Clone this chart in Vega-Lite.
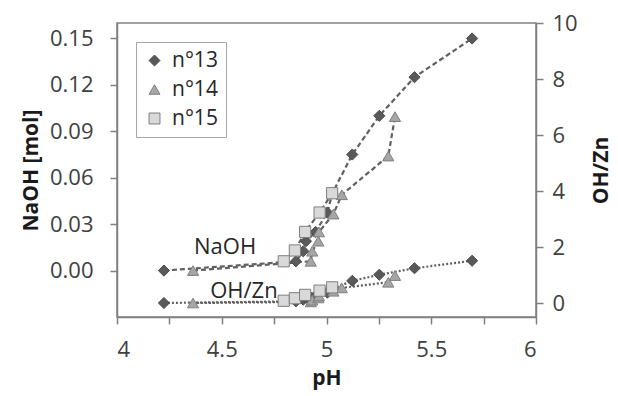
{
  "$schema": "https://vega.github.io/schema/vega-lite/v6.json",
  "width": 419,
  "height": 294,
  "autosize": {"type": "none"},
  "padding": {"left": 117, "top": 23, "right": 82, "bottom": 79},
  "background": "white",
  "config": {
    "font": "Open Sans",
    "view": {"stroke": "#808080", "strokeWidth": 1.5},
    "axis": {
      "grid": false,
      "domainColor": "#808080",
      "domainWidth": 1.5,
      "tickColor": "#808080",
      "tickWidth": 1.5,
      "tickSize": 7,
      "labelColor": "#404040",
      "labelFontSize": 22,
      "labelFont": "Open Sans",
      "titleFont": "Open Sans",
      "titleFontSize": 21,
      "titleFontWeight": "bold",
      "titleColor": "#1a1a1a"
    },
    "legend": {
      "orient": "none",
      "legendX": 19,
      "legendY": 19,
      "padding": 8,
      "rowPadding": 7,
      "strokeColor": "#a6a6a6",
      "fillColor": "white",
      "labelFontSize": 21,
      "labelFont": "Open Sans",
      "labelColor": "#262626",
      "labelOffset": 7,
      "symbolSize": 120,
      "symbolStrokeWidth": 1
    }
  },
  "datasets": {
    "pts": [
      {"series": "n°13", "pH": 4.224, "NaOH": 0.000, "OHZn": 0.00},
      {"series": "n°13", "pH": 4.854, "NaOH": 0.006, "OHZn": 0.06},
      {"series": "n°13", "pH": 4.889, "NaOH": 0.0125, "OHZn": 0.12},
      {"series": "n°13", "pH": 4.902, "NaOH": 0.019, "OHZn": 0.19},
      {"series": "n°13", "pH": 4.948, "NaOH": 0.025, "OHZn": 0.25},
      {"series": "n°13", "pH": 5.004, "NaOH": 0.0375, "OHZn": 0.37},
      {"series": "n°13", "pH": 5.028, "NaOH": 0.050, "OHZn": 0.50},
      {"series": "n°13", "pH": 5.123, "NaOH": 0.075, "OHZn": 0.79},
      {"series": "n°13", "pH": 5.252, "NaOH": 0.100, "OHZn": 1.01},
      {"series": "n°13", "pH": 5.420, "NaOH": 0.125, "OHZn": 1.24},
      {"series": "n°13", "pH": 5.695, "NaOH": 0.150, "OHZn": 1.51},
      {"series": "n°14", "pH": 4.363, "NaOH": 0.000, "OHZn": 0.00},
      {"series": "n°14", "pH": 4.925, "NaOH": 0.006, "OHZn": 0.04},
      {"series": "n°14", "pH": 4.932, "NaOH": 0.0125, "OHZn": 0.10},
      {"series": "n°14", "pH": 4.961, "NaOH": 0.019, "OHZn": 0.18},
      {"series": "n°14", "pH": 4.964, "NaOH": 0.025, "OHZn": 0.25},
      {"series": "n°14", "pH": 5.033, "NaOH": 0.0365, "OHZn": 0.42},
      {"series": "n°14", "pH": 5.073, "NaOH": 0.049, "OHZn": 0.54},
      {"series": "n°14", "pH": 5.295, "NaOH": 0.074, "OHZn": 0.74},
      {"series": "n°14", "pH": 5.327, "NaOH": 0.0995, "OHZn": 0.98},
      {"series": "n°15", "pH": 4.796, "NaOH": 0.006, "OHZn": 0.08},
      {"series": "n°15", "pH": 4.849, "NaOH": 0.013, "OHZn": 0.17},
      {"series": "n°15", "pH": 4.898, "NaOH": 0.025, "OHZn": 0.29},
      {"series": "n°15", "pH": 4.967, "NaOH": 0.0375, "OHZn": 0.44},
      {"series": "n°15", "pH": 5.027, "NaOH": 0.050, "OHZn": 0.56}
    ],
    "lab1": [{"label": "NaOH", "pH": 4.516, "NaOH": 0.0153}],
    "lab2": [{"label": "OH/Zn", "pH": 4.606, "OHZn": 0.43}]
  },
  "encoding": {
    "x": {
      "field": "pH", "type": "quantitative",
      "scale": {"domain": [4, 6], "nice": false, "zero": false},
      "axis": {
        "title": "pH",
        "values": [4, 4.25, 4.5, 4.75, 5, 5.25, 5.5, 5.75, 6],
        "labelExpr": "round(datum.value*2) == datum.value*2 ? format(datum.value, '~g') : ''",
        "labelPadding": 15,
        "titlePadding": 7
      }
    }
  },
  "layer": [
    {
      "layer": [
        {
          "data": {"name": "pts"},
          "mark": {"type": "line", "strokeDash": [5, 3], "strokeWidth": 2.2, "stroke": "#606060"},
          "encoding": {
            "y": {"field": "NaOH", "type": "quantitative"},
            "detail": {"field": "series", "type": "nominal"},
            "order": {"field": "pH", "type": "quantitative"}
          }
        },
        {
          "data": {"name": "pts"},
          "mark": {"type": "point", "filled": true, "size": 125, "strokeWidth": 1, "opacity": 1},
          "encoding": {
            "y": {"field": "NaOH", "type": "quantitative",
              "scale": {"domain": [-0.03, 0.16], "nice": false, "zero": false},
              "axis": {
                "title": "NaOH [mol]",
                "orient": "left",
                "values": [0, 0.015, 0.03, 0.045, 0.06, 0.075, 0.09, 0.105, 0.12, 0.135, 0.15],
                "labelExpr": "round(datum.value*200) % 2 == 0 ? format(datum.value, '.2f') : ''",
                "labelPadding": 17,
                "titlePadding": 8
              }},
            "shape": {"field": "series", "type": "nominal", "title": null,
              "scale": {"domain": ["n°13", "n°14", "n°15"], "range": ["diamond", "triangle-up", "square"]}},
            "fill": {"field": "series", "type": "nominal", "title": null,
              "scale": {"domain": ["n°13", "n°14", "n°15"], "range": ["#595959", "#a6a6a6", "#d9d9d9"]}},
            "stroke": {"field": "series", "type": "nominal", "title": null,
              "scale": {"domain": ["n°13", "n°14", "n°15"], "range": ["#4a4a4a", "#7f7f7f", "#7f7f7f"]}}
          }
        },
        {
          "data": {"name": "lab1"},
          "mark": {"type": "text", "fontSize": 22, "color": "#262626", "font": "Open Sans"},
          "encoding": {
            "y": {"field": "NaOH", "type": "quantitative"},
            "text": {"field": "label"}
          }
        }
      ]
    },
    {
      "layer": [
        {
          "data": {"name": "pts"},
          "mark": {"type": "line", "strokeDash": [2, 2], "strokeWidth": 2.2, "stroke": "#606060"},
          "encoding": {
            "y": {"field": "OHZn", "type": "quantitative"},
            "detail": {"field": "series", "type": "nominal"},
            "order": {"field": "pH", "type": "quantitative"}
          }
        },
        {
          "data": {"name": "pts"},
          "mark": {"type": "point", "filled": true, "size": 125, "strokeWidth": 1, "opacity": 1},
          "encoding": {
            "y": {"field": "OHZn", "type": "quantitative",
              "scale": {"domain": [-0.5, 10], "nice": false, "zero": false},
              "axis": {
                "title": "OH/Zn",
                "orient": "right",
                "titleAngle": 270,
                "values": [0, 1, 2, 3, 4, 5, 6, 7, 8, 9, 10],
                "labelExpr": "datum.value % 2 == 0 ? datum.label : ''",
                "labelPadding": 9,
                "titlePadding": 34
              }},
            "shape": {"field": "series", "type": "nominal", "title": null},
            "fill": {"field": "series", "type": "nominal", "title": null},
            "stroke": {"field": "series", "type": "nominal", "title": null}
          }
        },
        {
          "data": {"name": "lab2"},
          "mark": {"type": "text", "fontSize": 22, "color": "#262626", "font": "Open Sans"},
          "encoding": {
            "y": {"field": "OHZn", "type": "quantitative"},
            "text": {"field": "label"}
          }
        }
      ]
    }
  ],
  "resolve": {"scale": {"y": "independent"}, "axis": {"y": "independent"}}
}
